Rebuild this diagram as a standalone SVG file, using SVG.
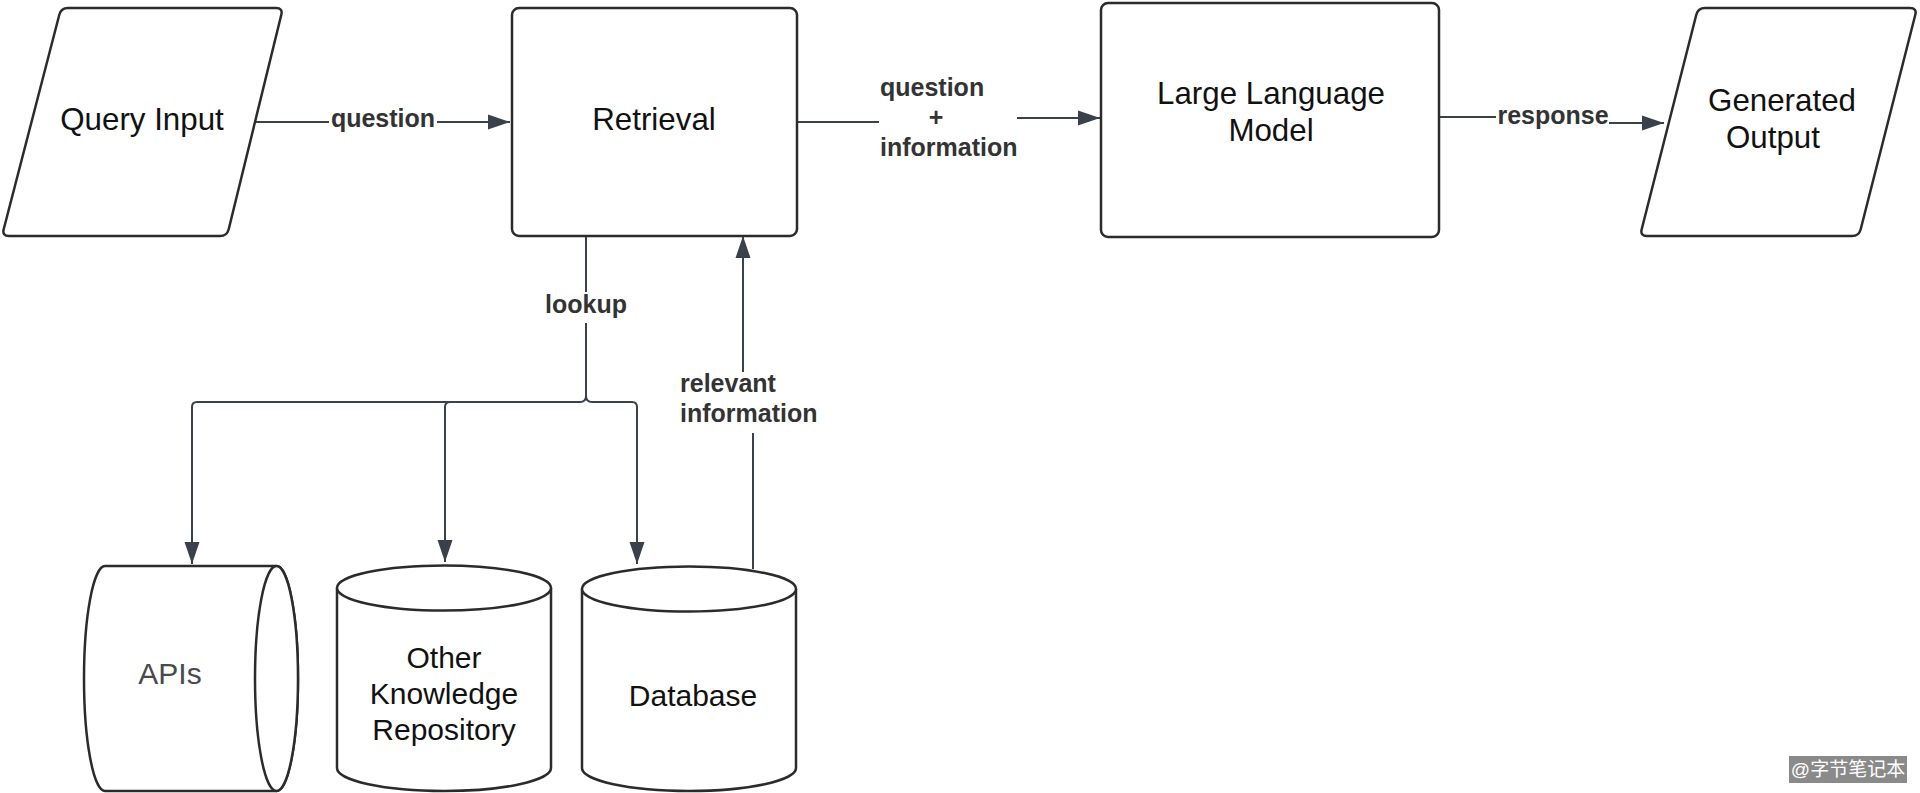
<svg xmlns="http://www.w3.org/2000/svg" width="1920" height="793" viewBox="0 0 1920 793">
<style>
.shape{fill:#ffffff;stroke:#2b2b2b;stroke-width:2.5;stroke-linejoin:round}
.conn{fill:none;stroke:#3a414a;stroke-width:2}
.node{font-family:"Liberation Sans",Arial,sans-serif;font-size:31.3px;fill:#111111;text-anchor:middle}
.small{font-size:30px}
.lbl{font-family:"Liberation Sans",Arial,sans-serif;font-size:25px;font-weight:bold;fill:#333333}
.lbg{fill:#ffffff}
</style>
<defs>
<marker id="arr" markerUnits="userSpaceOnUse" markerWidth="22" markerHeight="16" refX="22" refY="8" orient="auto">
<path d="M0,0.5 L22,8 L0,15.5 Z" fill="#3a414a"/>
</marker>
</defs>
<rect width="1920" height="793" fill="#ffffff"/>

<g id="connectors">
<!-- Query Input -> Retrieval -->
<path class="conn" d="M255,122 L510,122" marker-end="url(#arr)"/>
<rect class="lbg" x="329" y="108" width="108" height="26"/>
<text class="lbl" x="383" y="127" text-anchor="middle">question</text>

<!-- Retrieval -> LLM -->
<path class="conn" d="M797,122 L879,122"/>
<path class="conn" d="M1017,118 L1100,118" marker-end="url(#arr)"/>
<text class="lbl" x="880" y="96">question</text>
<text class="lbl" x="936" y="126" text-anchor="middle">+</text>
<text class="lbl" x="880" y="156">information</text>

<!-- LLM -> Generated Output -->
<path class="conn" d="M1439,117 L1496,117"/>
<path class="conn" d="M1609,123 L1664,123" marker-end="url(#arr)"/>
<text class="lbl" x="1553" y="124" text-anchor="middle">response</text>

<!-- lookup -->
<path class="conn" d="M586,236 L586,292"/>
<text class="lbl" x="586" y="313" text-anchor="middle">lookup</text>
<path class="conn" d="M586,323 L586,396 Q586,402 580,402 L197,402 Q192,402 192,407 L192,564" marker-end="url(#arr)"/>
<path class="conn" d="M586,396 Q586,402 592,402 L632,402 Q637,402 637,407 L637,564" marker-end="url(#arr)"/>
<path class="conn" d="M450,402 Q445,402 445,407 L445,562" marker-end="url(#arr)"/>

<!-- relevant information -->
<path class="conn" d="M753,569 L753,433"/>
<path class="conn" d="M743,372 L743,236" marker-end="url(#arr)"/>
<text class="lbl" x="680" y="392">relevant</text>
<text class="lbl" x="680" y="422">information</text>
</g>

<g id="query-input">
<path class="shape" d="M68,8 L276,8 Q283,8 281.3,14.8 L228.7,229.2 Q227,236 220,236 L9,236 Q2,236 3.7,229.2 L59.3,14.8 Q61,8 68,8 Z"/>
<text class="node" x="142" y="130">Query Input</text>
</g>

<g id="retrieval">
<rect class="shape" x="512" y="8" width="285" height="228" rx="7"/>
<text class="node" x="654" y="130">Retrieval</text>
</g>

<g id="llm">
<rect class="shape" x="1101" y="3" width="338" height="234" rx="7"/>
<text class="node" x="1271" y="104">Large Language</text>
<text class="node" x="1271" y="141">Model</text>
</g>

<g id="generated-output">
<path class="shape" d="M1705,8 L1910,8 Q1917,8 1915.3,14.8 L1860.7,229.2 Q1859,236 1852,236 L1647,236 Q1640,236 1641.7,229.2 L1696.3,14.8 Q1698,8 1705,8 Z"/>
<text class="node" x="1782" y="111">Generated</text>
<text class="node" x="1773" y="148">Output</text>
</g>

<g id="apis">
<path class="shape" d="M105,566 L276.5,566 A21.5,112.5 0 0 1 276.5,791 L105,791 A21,112.5 0 0 1 105,566 Z"/>
<ellipse class="shape" cx="276.5" cy="678.5" rx="21.5" ry="112.5"/>
<text class="node small" x="170" y="684" style="fill:#4a4a4a">APIs</text>
</g>

<g id="other-knowledge-repository">
<path class="shape" d="M337,588 L337,768 A107,23 0 0 0 551,768 L551,588"/>
<ellipse class="shape" cx="444" cy="588" rx="107" ry="22.5"/>
<text class="node small" x="444" y="668">Other</text>
<text class="node small" x="444" y="704">Knowledge</text>
<text class="node small" x="444" y="740">Repository</text>
</g>

<g id="database">
<path class="shape" d="M582,589 L582,768 A107,23 0 0 0 796,768 L796,589"/>
<ellipse class="shape" cx="689" cy="589" rx="107" ry="22.5"/>
<text class="node small" x="693" y="706">Database</text>
</g>

<g id="watermark">
<rect x="1789" y="756" width="118" height="27" fill="#8a8a8a"/>
<text x="1848" y="776" font-family="'Liberation Sans','Noto Sans CJK SC',sans-serif" font-size="19" fill="#ffffff" text-anchor="middle">@字节笔记本</text>
</g>
</svg>
